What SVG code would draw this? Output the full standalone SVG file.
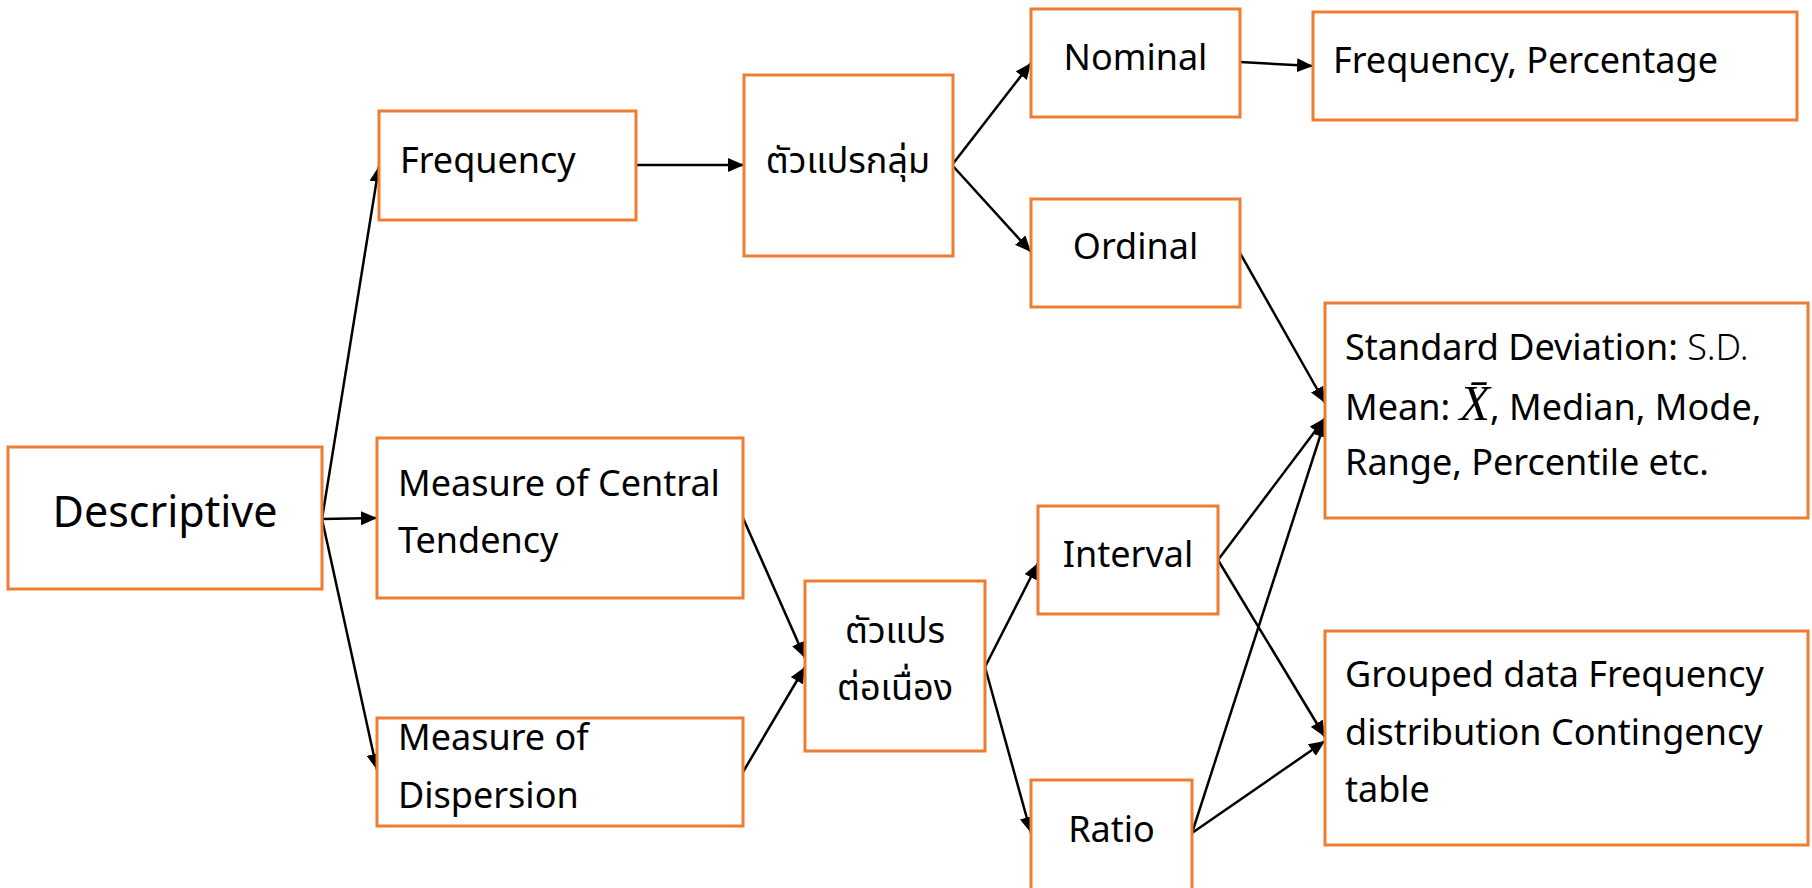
<svg xmlns="http://www.w3.org/2000/svg" width="1812" height="888" viewBox="0 0 1812 888">
  <defs>
    <style>
      .box { fill: #ffffff; stroke: #ED7D31; stroke-width: 3; }
      .t { font-family: "Noto Sans", "Noto Sans Thai", "Noto Sans Thai UI", "Leelawadee UI", "DejaVu Sans", sans-serif; font-size: 36px; fill: #000000; }
      .c { text-anchor: middle; }
      .big { font-size: 43px; }
      .light { font-weight: 300; }
      .xbar { font-family: "Liberation Serif", "Times New Roman", serif; font-style: italic; font-size: 50px; }
      .conn line { stroke: #000000; stroke-width: 2.5; fill: none; marker-end: url(#arrow); }
    </style>
    <marker id="arrow" markerUnits="userSpaceOnUse" markerWidth="18" markerHeight="14" refX="16" refY="7" orient="auto">
      <path d="M0,0 L16,7 L0,14 Z" fill="#000000"/>
    </marker>
  </defs>

  <rect width="1812" height="888" fill="#ffffff"/>

  <!-- connectors -->
  <g id="connectors" class="conn">
    <line x1="322" y1="519" x2="379" y2="166"/>
    <line x1="322" y1="519" x2="377" y2="518"/>
    <line x1="322" y1="519" x2="377" y2="770"/>
    <line x1="636" y1="165" x2="744" y2="165"/>
    <line x1="952" y1="165" x2="1031" y2="63"/>
    <line x1="952" y1="165" x2="1031" y2="252"/>
    <line x1="1240" y1="62" x2="1313" y2="66"/>
    <line x1="1240" y1="253" x2="1325" y2="403"/>
    <line x1="743" y1="518" x2="805" y2="658"/>
    <line x1="743" y1="772" x2="805" y2="667"/>
    <line x1="985" y1="667" x2="1038" y2="563"/>
    <line x1="985" y1="667" x2="1031" y2="833"/>
    <line x1="1218" y1="560" x2="1325" y2="418"/>
    <line x1="1218" y1="560" x2="1325" y2="737"/>
    <line x1="1192" y1="833" x2="1325" y2="421"/>
    <line x1="1192" y1="833" x2="1325" y2="741"/>
  </g>

  <g id="descriptive">
    <rect class="box" x="8" y="447" width="314" height="142"/>
    <text class="t big c" x="165" y="527">Descriptive</text>
  </g>

  <g id="frequency">
    <rect class="box" x="379" y="111" width="257" height="109"/>
    <text class="t" x="400" y="173">Frequency</text>
  </g>

  <g id="central-tendency">
    <rect class="box" x="377" y="438" width="366" height="160"/>
    <text class="t" x="398" y="496">Measure of Central<tspan x="398" y="553">Tendency</tspan></text>
  </g>

  <g id="dispersion">
    <rect class="box" x="377" y="718" width="366" height="108"/>
    <text class="t" x="398" y="750">Measure of<tspan x="398" y="808">Dispersion</tspan></text>
  </g>

  <g id="categorical">
    <rect class="box" x="744" y="75" width="209" height="181"/>
    <text class="t c" x="848" y="173">ตัวแปรกลุ่ม</text>
  </g>

  <g id="continuous">
    <rect class="box" x="805" y="581" width="180" height="170"/>
    <text class="t c" x="895" y="643">ตัวแปร<tspan x="895" y="700">ต่อเนื่อง</tspan></text>
  </g>

  <g id="nominal">
    <rect class="box" x="1031" y="9" width="209" height="108"/>
    <text class="t c" x="1135.5" y="70">Nominal</text>
  </g>

  <g id="ordinal">
    <rect class="box" x="1031" y="199" width="209" height="108"/>
    <text class="t c" x="1135.5" y="259">Ordinal</text>
  </g>

  <g id="interval">
    <rect class="box" x="1038" y="506" width="180" height="108"/>
    <text class="t c" x="1128" y="567">Interval</text>
  </g>

  <g id="ratio">
    <rect class="box" x="1031" y="780" width="161" height="120"/>
    <text class="t c" x="1111.5" y="842">Ratio</text>
  </g>

  <g id="freq-percentage">
    <rect class="box" x="1313" y="12" width="484" height="108"/>
    <text class="t" x="1333" y="73">Frequency, Percentage</text>
  </g>

  <g id="statistics">
    <rect class="box" x="1325" y="303" width="483" height="215"/>
    <text class="t" x="1345" y="360">Standard Deviation: <tspan class="light">S.D.</tspan></text>
    <text class="t" x="1345" y="420">Mean: <tspan class="xbar">X&#x0304;</tspan>, Median, Mode,</text>
    <text class="t" x="1345" y="475">Range, Percentile etc.</text>
  </g>

  <g id="grouped-data">
    <rect class="box" x="1325" y="631" width="483" height="214"/>
    <text class="t" x="1345" y="687">Grouped data Frequency<tspan x="1345" y="745">distribution Contingency</tspan><tspan x="1345" y="802">table</tspan></text>
  </g>
</svg>
